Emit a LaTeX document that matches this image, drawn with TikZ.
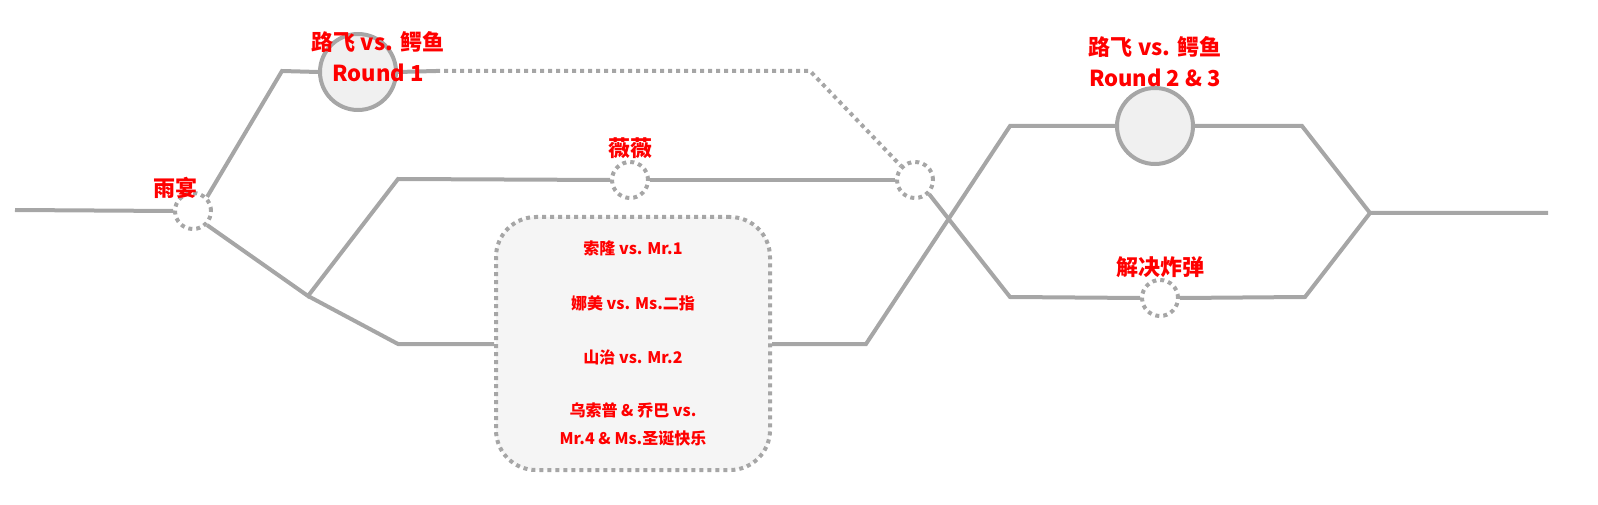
\documentclass[tikz,border=0pt]{standalone}
\usepackage{fontspec}
\setmainfont{Liberation Serif}
\newfontfamily\cjk{Noto Sans CJK SC}
\begin{document}
\begin{tikzpicture}[x=1pt,y=-1pt,
  ln/.style={draw=black!35,line width=4pt},
  dl/.style={draw=black!35,line width=4pt,dash pattern=on 4pt off 4pt},
  big/.style={circle,draw=black!35,line width=4pt,fill=black!6,minimum size=76pt,inner sep=0pt},
  small/.style={circle,draw=black!35,line width=4pt,dash pattern=on 4pt off 4pt,minimum size=36pt,inner sep=0pt},
  lab/.style={text=red,font=\cjk\bfseries\fontsize{22}{31}\selectfont,align=center},
  blab/.style={text=red,font=\cjk\bfseries\fontsize{16}{28}\selectfont,align=center}]
\useasboundingbox (0,0) rectangle (1598,505);
\coordinate (s) at (15,210);
\node[small] (c1) at (193,211) {};
\coordinate (a1) at (282,71);
\node[big] (r1) at (358,72) {};
\coordinate (a2) at (810,71);
\node[small] (c2) at (915,180) {};
\coordinate (j) at (308,296);
\coordinate (b1) at (398,179);
\node[small] (v) at (630,180) {};
\coordinate (b2) at (398,344);
\node[rounded corners=40pt,draw=black!35,line width=4pt,dash pattern=on 4pt off 4pt,fill=black!4,minimum width=274pt,minimum height=253pt] (box) at (633,343.5) {};
\coordinate (b3) at (866,344);
\coordinate (u1) at (1010,126);
\node[big] (r2) at (1155,126) {};
\coordinate (u2) at (1302,126);
\coordinate (m) at (1370,213);
\coordinate (e) at (1548,213);
\coordinate (l1) at (1010,297);
\node[small] (bm) at (1160,298) {};
\coordinate (l2) at (1305,297);
\draw[ln] (s) -- (c1.west);
\draw[ln] (c1.north east) -- (a1) -- (r1.west);
\draw[ln] (r1.east) -- (436,71);
\draw[dl] (436,71) -- (a2) -- (c2.north west);
\draw[ln] (c1.south east) -- (j) -- (b1) -- (v.west);
\draw[ln] (v.east) -- (c2.west);
\draw[ln] (j) -- (b2) -- (box.west |- b2);
\draw[ln] (box.east |- b3) -- (b3) -- (u1) -- (r2.west);
\draw[ln] (r2.east) -- (u2) -- (m) -- (e);
\draw[ln] (c2.south east) -- (l1) -- (bm.west);
\draw[ln] (bm.east) -- (l2) -- (m);
\node[lab] at (378,57) {路飞 vs. 鳄鱼\\Round 1};
\node[lab] at (175,188) {雨宴};
\node[lab] at (630,148) {薇薇};
\node[lab] at (1155,62) {路飞 vs. 鳄鱼\\Round 2 \& 3};
\node[lab] at (1160,267) {解决炸弹};
\node[blab] at (633,248) {索隆 vs. Mr.1};
\node[blab] at (633,303) {娜美 vs. Ms.二指};
\node[blab] at (633,357) {山治 vs. Mr.2};
\node[blab] at (633,424) {乌索普 \& 乔巴 vs.\\Mr.4 \& Ms.圣诞快乐};
\end{tikzpicture}
\end{document}
